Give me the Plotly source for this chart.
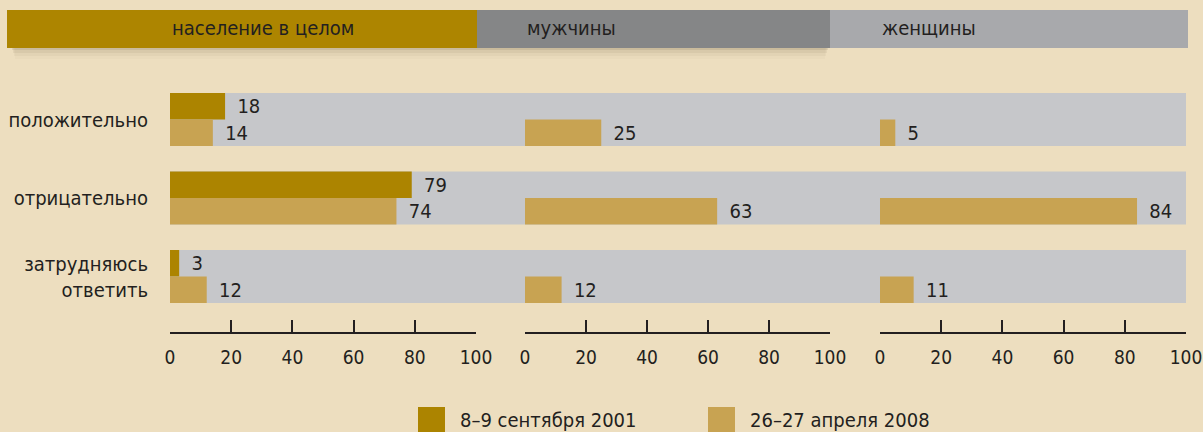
import plotly.graph_objects as go

W, H = 1203, 432

categories = ["положительно", "отрицательно", "затрудняюсь<br>ответить"]
panels = ["население в целом", "мужчины", "женщины"]
total_2001 = [18, 79, 3]
total_2008 = [14, 74, 12]
men_2008 = [25, 63, 12]
women_2008 = [5, 84, 11]
tick_vals = [0, 20, 40, 60, 80, 100]
series_names = ["8–9 сентября 2001", "26–27 апреля 2008"]

BG = "#EDDEBF"
DARK = "#AC8400"
LIGHT = "#C8A352"
BAND = "#C6C7CA"
TXT = "#231F20"
FONT = "Liberation Sans Narrow, DejaVu Sans Condensed, Arial Narrow, sans-serif"

# panel domains (paper fraction)
domains = [(170 / W, 476 / W), (525 / W, 830 / W), (880 / W, 1186 / W)]
header_cols = ["#AD8500", "#858687", "#A8A9AC"]
header_edges = [7 / W, 477 / W, 830 / W, 1188 / W]

ypos = list(range(len(categories)))
bw = 0.338

fig = go.Figure()

def add_bar(x, axis, color, offset, name):
    fig.add_trace(go.Bar(
        y=ypos, x=x, orientation="h", xaxis=axis, yaxis="y",
        marker=dict(color=color, line=dict(width=0)),
        width=bw, offset=offset, name=name, showlegend=False,
        text=["\u00a0\u2009" + str(v) for v in x], textposition="outside",
        textfont=dict(family=FONT, size=20, color=TXT),
        constraintext="none", cliponaxis=False, hoverinfo="skip",
    ))

add_bar(total_2001, "x", DARK, -bw, series_names[0])
add_bar(total_2008, "x", LIGHT, 0, series_names[1])
add_bar(men_2008, "x2", LIGHT, 0, series_names[1])
add_bar(women_2008, "x3", LIGHT, 0, series_names[1])

shapes = []
# grey background bands across all panels
for i in ypos:
    shapes.append(dict(type="rect", xref="paper", yref="y", layer="below",
                       x0=domains[0][0], x1=domains[2][1], y0=i - bw, y1=i + bw,
                       fillcolor=BAND, line=dict(width=0)))
# soft shadow under the first two header blocks
for k, a in enumerate([0.10, 0.07, 0.045, 0.025]):
    shapes.append(dict(type="rect", xref="paper", yref="paper", layer="below",
                       x0=(12 + k) / W, x1=(828 - k) / W,
                       y0=1 - (50 + 3 * k) / H, y1=1 - 47 / H,
                       fillcolor=f"rgba(90,70,40,{a})", line=dict(width=0)))
# header band
for k in range(3):
    shapes.append(dict(type="rect", xref="paper", yref="paper",
                       x0=header_edges[k], x1=header_edges[k + 1],
                       y0=1 - 48 / H, y1=1 - 10 / H,
                       fillcolor=header_cols[k], line=dict(width=0)))

annotations = []
for k, p in enumerate(panels):
    annotations.append(dict(text=p, xref="paper", yref="paper", x=domains[k][0],
                            y=1 - 28.5 / H, xanchor="left", yanchor="middle", showarrow=False,
                            font=dict(family=FONT, size=20, color=TXT)))

# legend
leg = [(418, DARK, series_names[0]), (708, LIGHT, series_names[1])]
for x0, col, name in leg:
    shapes.append(dict(type="rect", xref="paper", yref="paper",
                       x0=x0 / W, x1=(x0 + 27) / W, y0=1 - 436 / H, y1=1 - 407 / H,
                       fillcolor=col, line=dict(width=0)))
    annotations.append(dict(text=name, xref="paper", yref="paper", x=(x0 + 40) / W,
                            y=1 - 420 / H, xanchor="left", yanchor="middle", showarrow=False,
                            font=dict(family=FONT, size=20, color=TXT)))

ytop, ybot = 80.25, 315.75
axis_y = 1 - 333 / H
xcommon = dict(range=[0, 100], tickvals=tick_vals, showgrid=False, zeroline=False,
               showline=True, linecolor=TXT, linewidth=1.5, ticks="inside",
               ticklen=12, tickwidth=1.5, tickcolor=TXT, anchor="free",
               position=axis_y, fixedrange=True, automargin=False,
               ticklabelstandoff=7,
               tickfont=dict(family=FONT, size=19, color=TXT))

fig.update_layout(
    width=W, height=H, margin=dict(l=0, r=0, t=0, b=0, autoexpand=False),
    paper_bgcolor=BG, plot_bgcolor="rgba(0,0,0,0)",
    barmode="overlay", showlegend=False,
    xaxis=dict(domain=domains[0], **xcommon),
    xaxis2=dict(domain=domains[1], **xcommon),
    xaxis3=dict(domain=domains[2], **xcommon),
    yaxis=dict(domain=[1 - ybot / H, 1 - ytop / H], range=[2.5, -0.5],
               tickvals=ypos, ticktext=categories, showgrid=False, zeroline=False,
               showline=False, ticks="", ticklabelstandoff=21, anchor="x",
               automargin=False,
               tickfont=dict(family=FONT, size=20, color=TXT), fixedrange=True),
    shapes=shapes, annotations=annotations,
    font=dict(family=FONT, color=TXT),
)

fig.write_html("out.html")
